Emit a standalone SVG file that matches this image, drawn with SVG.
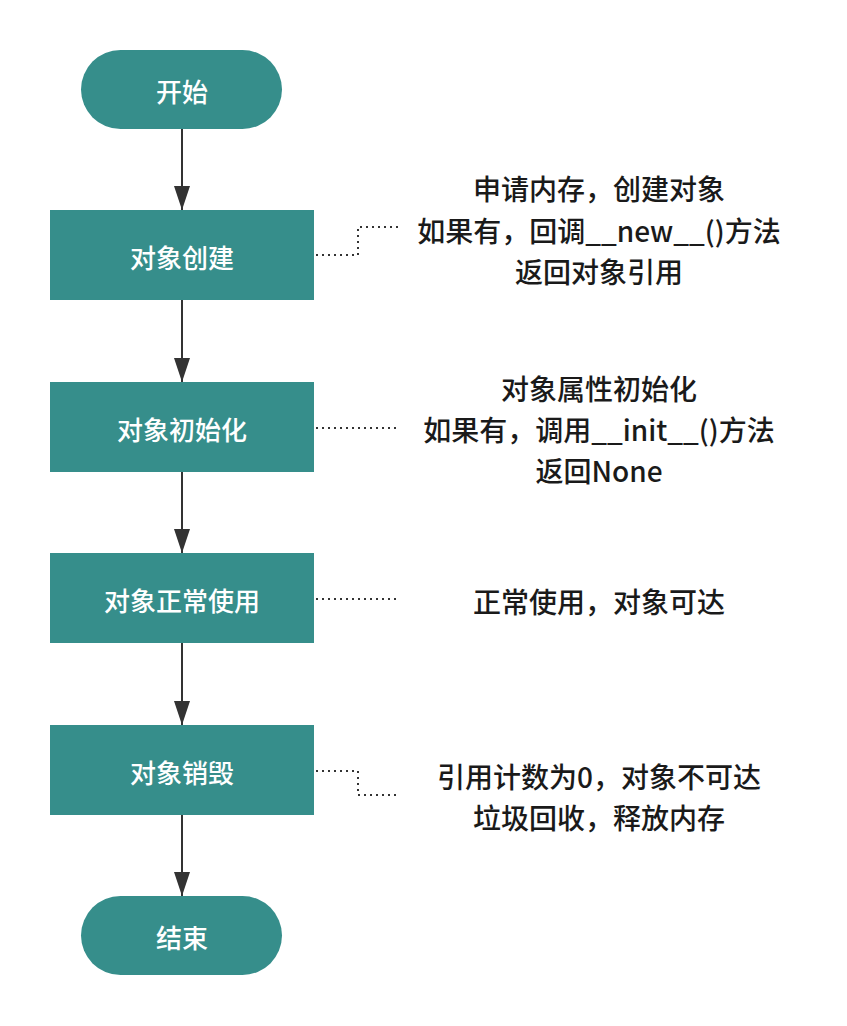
<svg xmlns="http://www.w3.org/2000/svg" width="847" height="1026" viewBox="0 0 847 1026">
<style>
.n{fill:#368e8b;}
.t{font-family:"Noto Sans CJK SC","Noto Sans",sans-serif;font-size:26px;font-weight:500;fill:#ffffff;text-anchor:middle;dominant-baseline:central;}
.a{font-family:"Noto Sans CJK SC","Noto Sans",sans-serif;font-size:28px;font-weight:500;fill:#1a1a1a;text-anchor:middle;dominant-baseline:central;}
.e{stroke:#333333;stroke-width:2;fill:none;}
.d{stroke:#333333;stroke-width:2;fill:none;stroke-dasharray:2 4;}
</style>
<defs>
<marker id="ah" viewBox="0 0 24 16" refX="24" refY="8" markerWidth="24" markerHeight="16" markerUnits="userSpaceOnUse" orient="auto">
<path d="M0,0 L24,8 L0,16 Z" fill="#333333"/>
</marker>
</defs>
<rect width="847" height="1026" fill="#ffffff"/>
<g id="connectors">
<path class="e" d="M182,129 V210" marker-end="url(#ah)"/>
<path class="e" d="M182,300 V382" marker-end="url(#ah)"/>
<path class="e" d="M182,472 V553" marker-end="url(#ah)"/>
<path class="e" d="M182,643 V725" marker-end="url(#ah)"/>
<path class="e" d="M182,815 V896" marker-end="url(#ah)"/>
<path class="d" d="M316,255 H358 V227 H398"/>
<path class="d" d="M316,428 H398"/>
<path class="d" d="M316,599 H398"/>
<path class="d" d="M316,771 H358 V795 H398"/>
</g>
<g id="start"><rect class="n" x="81" y="50" width="201" height="79" rx="39.5"/><text class="t" x="182" y="90">开始</text></g>
<g id="create"><rect class="n" x="50" y="210" width="264" height="90"/><text class="t" x="182" y="256">对象创建</text></g>
<g id="init"><rect class="n" x="50" y="382" width="264" height="90"/><text class="t" x="182" y="428">对象初始化</text></g>
<g id="use"><rect class="n" x="50" y="553" width="264" height="90"/><text class="t" x="182" y="599">对象正常使用</text></g>
<g id="destroy"><rect class="n" x="50" y="725" width="264" height="90"/><text class="t" x="182" y="771">对象销毁</text></g>
<g id="end"><rect class="n" x="81" y="896" width="201" height="79" rx="39.5"/><text class="t" x="182" y="936">结束</text></g>
<g id="note-create">
<text class="a" x="599" y="188">申请内存，创建对象</text>
<text class="a" x="599" y="230">如果有，回调__new__()方法</text>
<text class="a" x="599" y="271">返回对象引用</text>
</g>
<g id="note-init">
<text class="a" x="599" y="388">对象属性初始化</text>
<text class="a" x="599" y="429">如果有，调用__init__()方法</text>
<text class="a" x="599" y="470">返回None</text>
</g>
<g id="note-use"><text class="a" x="599" y="601">正常使用，对象可达</text></g>
<g id="note-destroy">
<text class="a" x="599" y="776">引用计数为0，对象不可达</text>
<text class="a" x="599" y="817">垃圾回收，释放内存</text>
</g>
</svg>
